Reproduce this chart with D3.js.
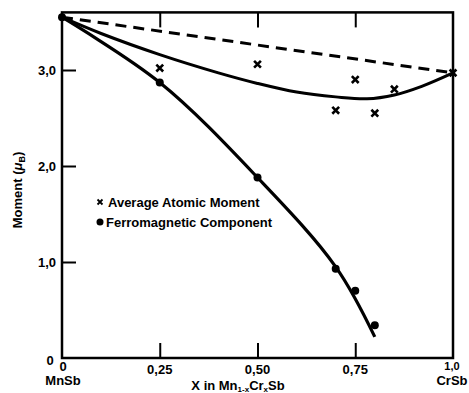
<!DOCTYPE html>
<html><head><meta charset="utf-8">
<script src="https://cdn.jsdelivr.net/npm/d3@7"></script>
<style>
body{margin:0;background:#fff;}
text{font-family:"Liberation Sans Narrow","Arial Narrow","Liberation Sans",Arial,sans-serif;font-weight:bold;fill:#000;}
</style></head><body>
<svg id="c" width="469" height="393"></svg>
<script>
// Data
const xTicks = [0.25, 0.50, 0.75];
const xTickLabels = ["0,25", "0,50", "0,75"];
const yTicks = [1, 2, 3];
const yTickLabels = ["1,0", "2,0", "3,0"];
// Average atomic moment (crosses)
const avgX = [0.25, 0.50, 0.70, 0.75, 0.80, 0.85, 1.0];
const avgY = [3.02, 3.06, 2.58, 2.90, 2.55, 2.80, 2.97];
// Smooth curve through average moment
const avgCurveX = [0, 0.1, 0.25, 0.4, 0.5, 0.6, 0.7, 0.78, 0.85, 0.92, 1.0];
const avgCurveY = [3.55, 3.38, 3.16, 2.97, 2.86, 2.77, 2.72, 2.70, 2.74, 2.83, 2.97];
// Ferromagnetic component (dots)
const ferX = [0, 0.25, 0.50, 0.70, 0.75, 0.80];
const ferY = [3.55, 2.87, 1.88, 0.93, 0.70, 0.34];
const ferCurveX = [0, 0.25, 0.50, 0.70, 0.80];
const ferCurveY = [3.55, 2.87, 1.88, 0.95, 0.22];
// Dashed straight line
const dashX = [0, 1.0];
const dashY = [3.55, 2.97];

const svg = d3.select("#c");
const x = d3.scaleLinear().domain([0, 1]).range([62, 453]);
const y = d3.scaleLinear().domain([0, 3.6]).range([358, 12.4]);

const g = svg.append("g");
// frame
g.append("rect").attr("x", x(0)).attr("y", y(3.6)).attr("width", x(1)-x(0)).attr("height", y(0)-y(3.6))
  .attr("fill","none").attr("stroke","#000").attr("stroke-width",2.5);

// ticks (inward)
const xb = d3.axisBottom(x).tickValues(xTicks).tickSize(-15).tickFormat("");
g.append("g").attr("transform",`translate(0,${y(0)})`).call(xb)
  .call(a=>{a.select(".domain").remove();a.selectAll("line").attr("stroke-width",2);});
const xt = d3.axisTop(x).tickValues(xTicks).tickSize(-15).tickFormat("");
g.append("g").attr("transform",`translate(0,${y(3.6)})`).call(xt)
  .call(a=>{a.select(".domain").remove();a.selectAll("line").attr("stroke-width",2);});
const yl = d3.axisLeft(y).tickValues(yTicks).tickSize(-14).tickFormat("");
g.append("g").attr("transform",`translate(${x(0)},0)`).call(yl)
  .call(a=>{a.select(".domain").remove();a.selectAll("line").attr("stroke-width",2);});

// tick labels
g.selectAll(".xl").data(xTicks).join("text").attr("x",d=>x(d)).attr("y",374)
  .attr("text-anchor","middle").attr("font-size",13).text((d,i)=>xTickLabels[i]);
g.selectAll(".yl").data(yTicks).join("text").attr("x",56).attr("y",d=>y(d)+5)
  .attr("text-anchor","end").attr("font-size",13).text((d,i)=>yTickLabels[i]);
g.append("text").attr("x",50).attr("y",365).attr("text-anchor","middle").attr("font-size",13).text("0");
g.append("text").attr("x",63).attr("y",371).attr("text-anchor","middle").attr("font-size",13).text("0");
g.append("text").attr("x",63).attr("y",385).attr("text-anchor","middle").attr("font-size",13).text("MnSb");
g.append("text").attr("x",452).attr("y",370).attr("text-anchor","middle").attr("font-size",11).text("1,0");
g.append("text").attr("x",452).attr("y",385).attr("text-anchor","middle").attr("font-size",13).text("CrSb");

// axis titles
const xt2 = g.append("text").attr("x",238).attr("y",390).attr("text-anchor","middle").attr("font-size",13);
xt2.append("tspan").text("X in Mn");
xt2.append("tspan").attr("font-size",8).attr("dy",2).text("1-x");
xt2.append("tspan").attr("dy",-2).text("Cr");
xt2.append("tspan").attr("font-size",8).attr("dy",2).text("x");
xt2.append("tspan").attr("dy",-2).text("Sb");

const yt = g.append("text").attr("transform","translate(22,190) rotate(-90)").attr("text-anchor","middle").attr("font-size",13);
yt.append("tspan").text("Moment (");
yt.append("tspan").text("\u03bc").attr("font-style","italic");
yt.append("tspan").attr("font-size",9).attr("dy",3).text("B");
yt.append("tspan").attr("dy",-3).text(")");

// lines
const line = d3.line().x(d=>x(d[0])).y(d=>y(d[1]));
g.append("path").datum(d3.zip(dashX,dashY)).attr("d",line)
  .attr("fill","none").attr("stroke","#000").attr("stroke-width",3).attr("stroke-dasharray","11,7");
const smooth = d3.line().x(d=>x(d[0])).y(d=>y(d[1])).curve(d3.curveCatmullRom);
g.append("path").datum(d3.zip(avgCurveX,avgCurveY)).attr("d",smooth)
  .attr("fill","none").attr("stroke","#000").attr("stroke-width",3);
g.append("path").datum(d3.zip(ferCurveX,ferCurveY)).attr("d",smooth)
  .attr("fill","none").attr("stroke","#000").attr("stroke-width",3.2);

// markers
g.selectAll(".dot").data(d3.zip(ferX,ferY)).join("circle")
  .attr("cx",d=>x(d[0])).attr("cy",d=>y(d[1])).attr("r",4).attr("fill","#000");
const cross = d3.symbol().type(d3.symbolX).size(32);
g.selectAll(".cr").data(d3.zip(avgX,avgY)).join("path")
  .attr("transform",d=>`translate(${x(d[0])},${y(d[1])})`).attr("d",cross)
  .attr("fill","none").attr("stroke","#000").attr("stroke-width",2.6);

// legend
g.append("path").attr("transform","translate(100,202)").attr("d",d3.symbol().type(d3.symbolX).size(18)())
  .attr("stroke","#000").attr("stroke-width",1.8);
g.append("text").attr("x",108).attr("y",207).attr("font-size",13).text("Average Atomic Moment");
g.append("circle").attr("cx",100).attr("cy",222).attr("r",3.5).attr("fill","#000");
g.append("text").attr("x",106).attr("y",227).attr("font-size",13).text("Ferromagnetic Component");
</script></body></html>
